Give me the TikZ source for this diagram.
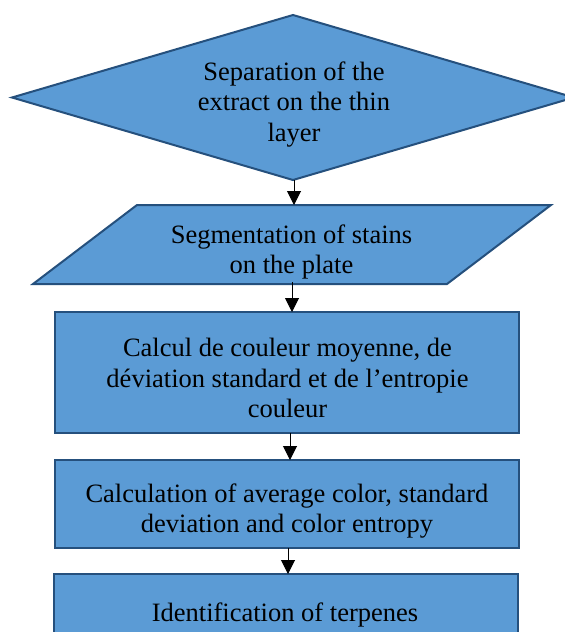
\documentclass[tikz,border=0pt]{standalone}
\usepackage{fontspec}
\setmainfont{Liberation Serif}
\usetikzlibrary{shapes.geometric,arrows.meta}
\definecolor{boxfill}{HTML}{5B9BD5}
\definecolor{boxline}{HTML}{25507D}
\tikzset{
  shapebox/.style={draw=boxline, fill=boxfill, line width=2pt, inner sep=0pt, outer sep=0pt},
  txt/.style={align=center, inner sep=0pt, font=\fontsize{26.5}{30.5}\selectfont},
  flow/.style={draw=black, line width=1pt, -{Triangle[width=14pt,length=14pt]}}
}
\begin{document}
\begin{tikzpicture}[x=1pt,y=-1pt]
\useasboundingbox (0,0) rectangle (565,632);
\fill[white] (0,0) rectangle (565,632);
\clip (0,0) rectangle (565,632);
% shapes
\node[shapebox, diamond, minimum width=562pt, minimum height=165pt] (sep) at (293,97.5) {};
\node[inner sep=0pt, outer sep=0pt, minimum width=414pt, minimum height=79pt] (seg) at (292,244.5) {};
\draw[shapebox] ([xshift=52pt]seg.north west) -- ([xshift=52pt]seg.north east) -- ([xshift=-52pt]seg.south east) -- ([xshift=-52pt]seg.south west) -- cycle;
\node[shapebox, rectangle, minimum width=464pt, minimum height=121pt] (calc) at (287,372.5) {};
\node[shapebox, rectangle, minimum width=464pt, minimum height=88pt] (calen) at (287,504) {};
\node[shapebox, rectangle, minimum width=464pt, minimum height=76pt] (ident) at (286,612) {};
% texts
\node[txt] (tsep) at (294,104.5) {Separation of the\\extract on the thin\\layer};
\node[txt] (tseg) at (291.5,252) {Segmentation of stains\\on the plate};
\node[txt] (tcalc) at (287.5,378) {Calcul de couleur moyenne, de\\déviation standard et de l’entropie\\couleur};
\node[txt] (tcalen) at (287,511) {Calculation of average color, standard\\deviation and color entropy};
\node[txt] (tident) at (285,615) {Identification of terpenes};
% connectors
\draw[flow] ([xshift=1pt]sep.south) -- ([xshift=1pt]sep.south |- seg.north);
\draw[flow] ([yshift=2pt]seg.south) -- (seg.south |- calc.north);
\draw[flow] ([xshift=3pt]calc.south) -- ([xshift=3pt]calc.south |- calen.north);
\draw[flow] ([xshift=1pt]calen.south) -- ([xshift=1pt]calen.south |- ident.north);
\end{tikzpicture}
\end{document}
